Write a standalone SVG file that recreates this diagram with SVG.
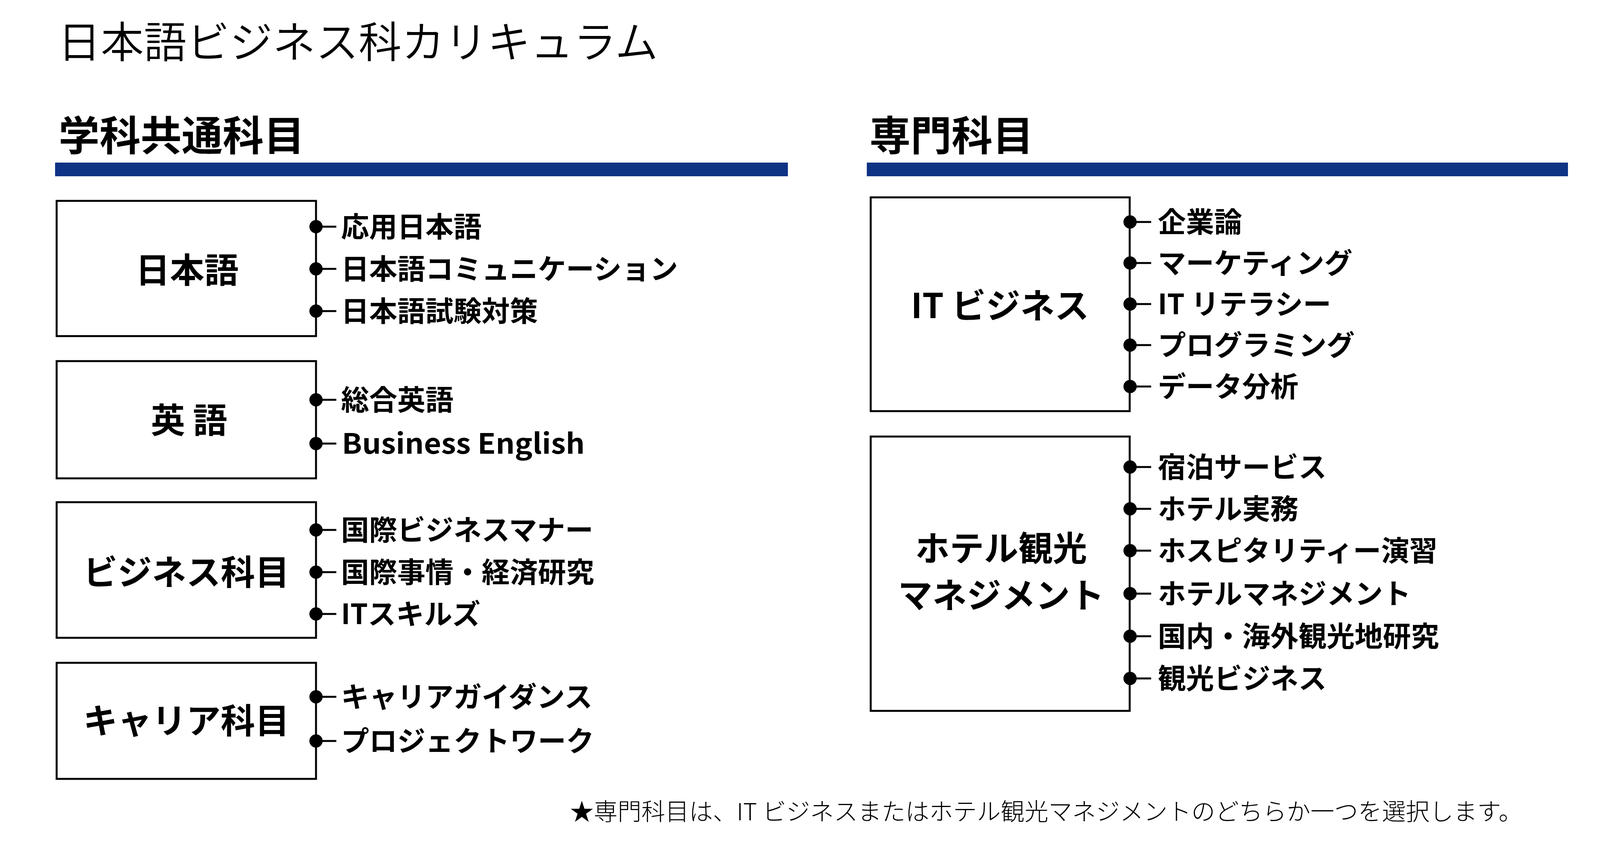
<svg xmlns="http://www.w3.org/2000/svg" width="4148" height="2198" viewBox="0 0 4148 2198">
<style>
text{font-family:"Noto Sans CJK JP","Noto Sans",sans-serif;fill:#000}
.title{font-size:110px;font-weight:350}
.head{font-size:105px;font-weight:700}
.lbl{font-size:88px;font-weight:700;text-anchor:middle}
.item{font-size:72px;font-weight:700}
.note{font-size:61px;font-weight:300}
.box{fill:#fff;stroke:#000;stroke-width:5}
.bar{fill:#0e3385}
.con line{stroke:#000;stroke-width:5}
.con circle{fill:#000}
</style>
<rect width="4148" height="2198" fill="#fff"/>
<text class="title" x="148" y="148">日本語ビジネス科カリキュラム</text>
<g id="head-common">
<text class="head" x="150" y="385">学科共通科目</text>
<rect class="bar" x="141" y="416" width="1876" height="35"/>
</g>
<g id="head-special">
<text class="head" x="2226" y="385">専門科目</text>
<rect class="bar" x="2219" y="416" width="1795" height="35"/>
</g>

<g id="node-japanese">
<rect class="box" x="145" y="514" width="664" height="346"/>
<text class="lbl" x="479" y="723">日本語</text>
</g>
<g id="node-english">
<rect class="box" x="145" y="924" width="664" height="300"/>
<text class="lbl" x="484" y="1107">英 語</text>
</g>
<g id="node-business">
<rect class="box" x="145" y="1285" width="664" height="347"/>
<text class="lbl" x="477" y="1496">ビジネス科目</text>
</g>
<g id="node-career">
<rect class="box" x="145" y="1696" width="664" height="297"/>
<text class="lbl" x="477" y="1876">キャリア科目</text>
</g>
<g id="node-it">
<rect class="box" x="2229" y="505" width="663" height="547"/>
<text class="lbl" x="2560" y="814">IT ビジネス</text>
</g>
<g id="node-hotel">
<rect class="box" x="2229" y="1117" width="663" height="702"/>
<text class="lbl" x="2563" y="1435">ホテル観光</text>
<text class="lbl" x="2563" y="1555">マネジメント</text>
</g>

<g id="connectors" class="con">
<line x1="809" y1="580" x2="861" y2="580"/><circle cx="809" cy="580" r="17"/>
<line x1="809" y1="688" x2="861" y2="688"/><circle cx="809" cy="688" r="17"/>
<line x1="809" y1="796" x2="861" y2="796"/><circle cx="809" cy="796" r="17"/>
<line x1="809" y1="1023" x2="861" y2="1023"/><circle cx="809" cy="1023" r="17"/>
<line x1="809" y1="1135" x2="861" y2="1135"/><circle cx="809" cy="1135" r="17"/>
<line x1="809" y1="1356" x2="861" y2="1356"/><circle cx="809" cy="1356" r="17"/>
<line x1="809" y1="1464" x2="861" y2="1464"/><circle cx="809" cy="1464" r="17"/>
<line x1="809" y1="1571" x2="861" y2="1571"/><circle cx="809" cy="1571" r="17"/>
<line x1="809" y1="1783" x2="861" y2="1783"/><circle cx="809" cy="1783" r="17"/>
<line x1="809" y1="1896" x2="861" y2="1896"/><circle cx="809" cy="1896" r="17"/>
<line x1="2893" y1="568" x2="2947" y2="568"/><circle cx="2893" cy="568" r="17"/>
<line x1="2893" y1="673" x2="2947" y2="673"/><circle cx="2893" cy="673" r="17"/>
<line x1="2893" y1="778" x2="2947" y2="778"/><circle cx="2893" cy="778" r="17"/>
<line x1="2893" y1="883" x2="2947" y2="883"/><circle cx="2893" cy="883" r="17"/>
<line x1="2893" y1="989" x2="2947" y2="989"/><circle cx="2893" cy="989" r="17"/>
<line x1="2893" y1="1195" x2="2947" y2="1195"/><circle cx="2893" cy="1195" r="17"/>
<line x1="2893" y1="1302" x2="2947" y2="1302"/><circle cx="2893" cy="1302" r="17"/>
<line x1="2893" y1="1409" x2="2947" y2="1409"/><circle cx="2893" cy="1409" r="17"/>
<line x1="2893" y1="1519" x2="2947" y2="1519"/><circle cx="2893" cy="1519" r="17"/>
<line x1="2893" y1="1628" x2="2947" y2="1628"/><circle cx="2893" cy="1628" r="17"/>
<line x1="2893" y1="1736" x2="2947" y2="1736"/><circle cx="2893" cy="1736" r="17"/>
</g>

<g id="items-japanese">
<text class="item" x="873" y="606">応用日本語</text>
<text class="item" x="873" y="714">日本語コミュニケーション</text>
<text class="item" x="873" y="822">日本語試験対策</text>
</g>
<g id="items-english">
<text class="item" x="873" y="1049">総合英語</text>
<text class="item" x="875" y="1161" textLength="622" lengthAdjust="spacingAndGlyphs">Business English</text>
</g>
<g id="items-business">
<text class="item" x="873" y="1382">国際ビジネスマナー</text>
<text class="item" x="873" y="1490">国際事情・経済研究</text>
<text class="item" x="873" y="1597">ITスキルズ</text>
</g>
<g id="items-career">
<text class="item" x="873" y="1809">キャリアガイダンス</text>
<text class="item" x="873" y="1922">プロジェクトワーク</text>
</g>
<g id="items-it">
<text class="item" x="2964" y="594">企業論</text>
<text class="item" x="2964" y="699">マーケティング</text>
<text class="item" x="2964" y="804">IT リテラシー</text>
<text class="item" x="2964" y="909">プログラミング</text>
<text class="item" x="2964" y="1015">データ分析</text>
</g>
<g id="items-hotel">
<text class="item" x="2964" y="1221">宿泊サービス</text>
<text class="item" x="2964" y="1328">ホテル実務</text>
<text class="item" x="2964" y="1435">ホスピタリティー演習</text>
<text class="item" x="2964" y="1545">ホテルマネジメント</text>
<text class="item" x="2964" y="1654">国内・海外観光地研究</text>
<text class="item" x="2964" y="1762">観光ビジネス</text>
</g>

<text class="note" x="1459" y="2099">★専門科目は、IT ビジネスまたはホテル観光マネジメントのどちらか一つを選択します。</text>
</svg>
